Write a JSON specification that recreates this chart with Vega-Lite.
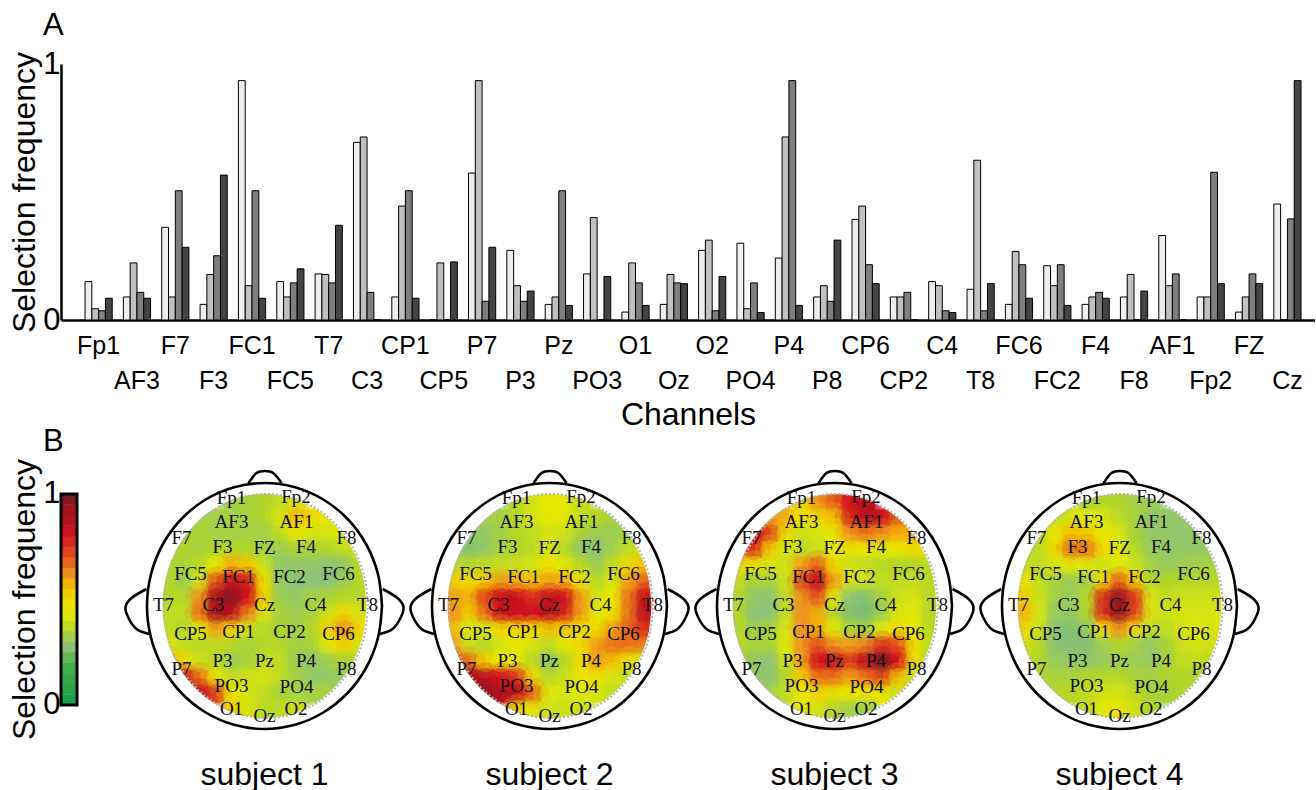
{"$schema":"https://vega.github.io/schema/vega-lite/v6.json","padding":{"left":8,"top":10,"right":0,"bottom":0},"background":"white","config":{"view":{"stroke":null},"font":"Liberation Sans","concat":{"spacing":-4}},"datasets":{"bars":[{"c":"Fp1","s":1,"v":0.15},{"c":"Fp1","s":2,"v":0.044},{"c":"Fp1","s":3,"v":0.036},{"c":"Fp1","s":4,"v":0.085},{"c":"AF3","s":1,"v":0.09},{"c":"AF3","s":2,"v":0.223},{"c":"AF3","s":3,"v":0.108},{"c":"AF3","s":4,"v":0.085},{"c":"F7","s":1,"v":0.362},{"c":"F7","s":2,"v":0.09},{"c":"F7","s":3,"v":0.505},{"c":"F7","s":4,"v":0.284},{"c":"F3","s":1,"v":0.061},{"c":"F3","s":2,"v":0.178},{"c":"F3","s":3,"v":0.251},{"c":"F3","s":4,"v":0.566},{"c":"FC1","s":1,"v":0.935},{"c":"FC1","s":2,"v":0.134},{"c":"FC1","s":3,"v":0.505},{"c":"FC1","s":4,"v":0.085},{"c":"FC5","s":1,"v":0.15},{"c":"FC5","s":2,"v":0.09},{"c":"FC5","s":3,"v":0.145},{"c":"FC5","s":4,"v":0.2},{"c":"T7","s":1,"v":0.18},{"c":"T7","s":2,"v":0.178},{"c":"T7","s":3,"v":0.145},{"c":"T7","s":4,"v":0.37},{"c":"C3","s":1,"v":0.694},{"c":"C3","s":2,"v":0.715},{"c":"C3","s":3,"v":0.108},{"c":"C3","s":4,"v":0},{"c":"CP1","s":1,"v":0.09},{"c":"CP1","s":2,"v":0.445},{"c":"CP1","s":3,"v":0.505},{"c":"CP1","s":4,"v":0.085},{"c":"CP5","s":1,"v":0},{"c":"CP5","s":2,"v":0.223},{"c":"CP5","s":3,"v":0},{"c":"CP5","s":4,"v":0.227},{"c":"P7","s":1,"v":0.574},{"c":"P7","s":2,"v":0.935},{"c":"P7","s":3,"v":0.073},{"c":"P7","s":4,"v":0.284},{"c":"P3","s":1,"v":0.272},{"c":"P3","s":2,"v":0.134},{"c":"P3","s":3,"v":0.073},{"c":"P3","s":4,"v":0.113},{"c":"Pz","s":1,"v":0.061},{"c":"Pz","s":2,"v":0.09},{"c":"Pz","s":3,"v":0.505},{"c":"Pz","s":4,"v":0.057},{"c":"PO3","s":1,"v":0.18},{"c":"PO3","s":2,"v":0.4},{"c":"PO3","s":3,"v":0},{"c":"PO3","s":4,"v":0.17},{"c":"O1","s":1,"v":0.031},{"c":"O1","s":2,"v":0.223},{"c":"O1","s":3,"v":0.145},{"c":"O1","s":4,"v":0.057},{"c":"Oz","s":1,"v":0.061},{"c":"Oz","s":2,"v":0.178},{"c":"Oz","s":3,"v":0.145},{"c":"Oz","s":4,"v":0.142},{"c":"O2","s":1,"v":0.272},{"c":"O2","s":2,"v":0.312},{"c":"O2","s":3,"v":0.036},{"c":"O2","s":4,"v":0.17},{"c":"PO4","s":1,"v":0.3},{"c":"PO4","s":2,"v":0.044},{"c":"PO4","s":3,"v":0.145},{"c":"PO4","s":4,"v":0.029},{"c":"P4","s":1,"v":0.242},{"c":"P4","s":2,"v":0.715},{"c":"P4","s":3,"v":0.935},{"c":"P4","s":4,"v":0.057},{"c":"P8","s":1,"v":0.09},{"c":"P8","s":2,"v":0.134},{"c":"P8","s":3,"v":0.073},{"c":"P8","s":4,"v":0.312},{"c":"CP6","s":1,"v":0.393},{"c":"CP6","s":2,"v":0.445},{"c":"CP6","s":3,"v":0.216},{"c":"CP6","s":4,"v":0.142},{"c":"CP2","s":1,"v":0.09},{"c":"CP2","s":2,"v":0.09},{"c":"CP2","s":3,"v":0.108},{"c":"CP2","s":4,"v":0},{"c":"C4","s":1,"v":0.15},{"c":"C4","s":2,"v":0.134},{"c":"C4","s":3,"v":0.036},{"c":"C4","s":4,"v":0.029},{"c":"T8","s":1,"v":0.12},{"c":"T8","s":2,"v":0.624},{"c":"T8","s":3,"v":0.036},{"c":"T8","s":4,"v":0.142},{"c":"FC6","s":1,"v":0.061},{"c":"FC6","s":2,"v":0.268},{"c":"FC6","s":3,"v":0.216},{"c":"FC6","s":4,"v":0.085},{"c":"FC2","s":1,"v":0.212},{"c":"FC2","s":2,"v":0.134},{"c":"FC2","s":3,"v":0.216},{"c":"FC2","s":4,"v":0.057},{"c":"F4","s":1,"v":0.061},{"c":"F4","s":2,"v":0.09},{"c":"F4","s":3,"v":0.108},{"c":"F4","s":4,"v":0.085},{"c":"F8","s":1,"v":0.09},{"c":"F8","s":2,"v":0.178},{"c":"F8","s":3,"v":0},{"c":"F8","s":4,"v":0.113},{"c":"AF1","s":1,"v":0.33},{"c":"AF1","s":2,"v":0.134},{"c":"AF1","s":3,"v":0.18},{"c":"AF1","s":4,"v":0},{"c":"Fp2","s":1,"v":0.09},{"c":"Fp2","s":2,"v":0.09},{"c":"Fp2","s":3,"v":0.577},{"c":"Fp2","s":4,"v":0.142},{"c":"FZ","s":1,"v":0.031},{"c":"FZ","s":2,"v":0.09},{"c":"FZ","s":3,"v":0.18},{"c":"FZ","s":4,"v":0.142},{"c":"Cz","s":1,"v":0.453},{"c":"Cz","s":2,"v":0},{"c":"Cz","s":3,"v":0.395},{"c":"Cz","s":4,"v":0.935}],
"head":[{"p":"h","i":0,"x":117.5,"y":0},{"p":"h","i":1,"x":113.5,"y":31.8},{"p":"h","i":2,"x":101.8,"y":61.5},{"p":"h","i":3,"x":83.1,"y":87},{"p":"h","i":4,"x":58.8,"y":106.5},{"p":"h","i":5,"x":30.4,"y":118.8},{"p":"h","i":6,"x":0,"y":123},{"p":"h","i":7,"x":-30.4,"y":118.8},{"p":"h","i":8,"x":-58.8,"y":106.5},{"p":"h","i":9,"x":-83.1,"y":87},{"p":"h","i":10,"x":-101.8,"y":61.5},{"p":"h","i":11,"x":-113.5,"y":31.8},{"p":"h","i":12,"x":-117.5,"y":0},{"p":"h","i":13,"x":-113.5,"y":-31.8},{"p":"h","i":14,"x":-101.8,"y":-61.5},{"p":"h","i":15,"x":-83.1,"y":-87},{"p":"h","i":16,"x":-58.8,"y":-106.5},{"p":"h","i":17,"x":-30.4,"y":-118.8},{"p":"h","i":18,"x":0,"y":-123},{"p":"h","i":19,"x":30.4,"y":-118.8},{"p":"h","i":20,"x":58.8,"y":-106.5},{"p":"h","i":21,"x":83.1,"y":-87},{"p":"h","i":22,"x":101.8,"y":-61.5},{"p":"h","i":23,"x":113.5,"y":-31.8},{"p":"h","i":24,"x":117.5,"y":0},{"p":"l","i":0,"x":-118,"y":17},{"p":"l","i":1,"x":-133,"y":8},{"p":"l","i":2,"x":-139,"y":-1},{"p":"l","i":3,"x":-136,"y":-12},{"p":"l","i":4,"x":-128,"y":-23},{"p":"l","i":5,"x":-115.5,"y":-28},{"p":"r","i":0,"x":118,"y":17},{"p":"r","i":1,"x":133,"y":8},{"p":"r","i":2,"x":139,"y":-1},{"p":"r","i":3,"x":136,"y":-12},{"p":"r","i":4,"x":128,"y":-23},{"p":"r","i":5,"x":115.5,"y":-28},{"p":"n","i":0,"x":-16,"y":122.7},{"p":"n","i":1,"x":-8,"y":133},{"p":"n","i":2,"x":0.5,"y":135},{"p":"n","i":3,"x":8.8,"y":133},{"p":"n","i":4,"x":17,"y":123}],
"mask":[{"i":0,"x":115,"y":0},{"i":1,"x":111.1,"y":32.4},{"i":2,"x":99.6,"y":62.5},{"i":3,"x":81.3,"y":88.4},{"i":4,"x":57.5,"y":108.3},{"i":5,"x":29.8,"y":120.8},{"i":6,"x":0,"y":125},{"i":7,"x":-29.8,"y":120.8},{"i":8,"x":-57.5,"y":108.3},{"i":9,"x":-81.3,"y":88.4},{"i":10,"x":-99.6,"y":62.5},{"i":11,"x":-111.1,"y":32.4},{"i":12,"x":-115,"y":0},{"i":13,"x":-111.1,"y":-32.4},{"i":14,"x":-99.6,"y":-62.5},{"i":15,"x":-81.3,"y":-88.4},{"i":16,"x":-57.5,"y":-108.3},{"i":17,"x":-29.8,"y":-120.8},{"i":18,"x":0,"y":-125},{"i":19,"x":29.8,"y":-120.8},{"i":20,"x":57.5,"y":-108.3},{"i":21,"x":81.3,"y":-88.4},{"i":22,"x":99.6,"y":-62.5},{"i":23,"x":111.1,"y":-32.4},{"i":24,"x":115,"y":0}],
"disc":[{"i":0,"x":103.5,"y":0},{"i":1,"x":100,"y":29},{"i":2,"x":89.8,"y":56},{"i":3,"x":73.6,"y":79.2},{"i":4,"x":52.5,"y":97},{"i":5,"x":27.9,"y":108.2},{"i":6,"x":1.5,"y":112},{"i":7,"x":-24.9,"y":108.2},{"i":8,"x":-49.5,"y":97},{"i":9,"x":-70.6,"y":79.2},{"i":10,"x":-86.8,"y":56},{"i":11,"x":-97,"y":29},{"i":12,"x":-100.5,"y":0},{"i":13,"x":-97,"y":-29},{"i":14,"x":-86.8,"y":-56},{"i":15,"x":-70.6,"y":-79.2},{"i":16,"x":-49.5,"y":-97},{"i":17,"x":-24.9,"y":-108.2},{"i":18,"x":1.5,"y":-112},{"i":19,"x":27.9,"y":-108.2},{"i":20,"x":52.5,"y":-97},{"i":21,"x":73.6,"y":-79.2},{"i":22,"x":89.8,"y":-56},{"i":23,"x":100,"y":-29},{"i":24,"x":103.5,"y":0}],
"elec":[{"n":"Fp1","x":-33,"y":108},{"n":"Fp2","x":31.5,"y":109},{"n":"AF3","x":-33,"y":84},{"n":"AF1","x":32,"y":84},{"n":"F7","x":-83,"y":68},{"n":"F8","x":82,"y":68},{"n":"F3","x":-42,"y":59},{"n":"FZ","x":0,"y":58},{"n":"F4","x":41.5,"y":59},{"n":"FC5","x":-74,"y":32},{"n":"FC1","x":-26,"y":29},{"n":"FC2","x":25,"y":29},{"n":"FC6","x":74,"y":32},{"n":"T7","x":-101,"y":1},{"n":"C3","x":-51,"y":1},{"n":"Cz","x":0,"y":1},{"n":"C4","x":51,"y":1},{"n":"T8","x":103,"y":1},{"n":"CP5","x":-74,"y":-28},{"n":"CP1","x":-26,"y":-26},{"n":"CP2","x":25,"y":-26},{"n":"CP6","x":74,"y":-28},{"n":"P3","x":-42,"y":-55},{"n":"Pz","x":0,"y":-55},{"n":"P4","x":41.5,"y":-55},{"n":"P7","x":-83,"y":-63},{"n":"P8","x":82,"y":-63},{"n":"PO3","x":-33,"y":-80},{"n":"PO4","x":32,"y":-81},{"n":"O1","x":-33,"y":-103},{"n":"O2","x":31.5,"y":-103},{"n":"Oz","x":0,"y":-110}],
"bar":[{"v":0.025},{"v":0.075},{"v":0.125},{"v":0.175},{"v":0.225},{"v":0.275},{"v":0.325},{"v":0.375},{"v":0.425},{"v":0.475},{"v":0.525},{"v":0.575},{"v":0.625},{"v":0.675},{"v":0.725},{"v":0.775},{"v":0.825},{"v":0.875},{"v":0.925},{"v":0.975}],
"cells":[
{"s":1,"x":-32,"y":104,"v":0.33},{"s":1,"x":-16,"y":104,"v":0.34},{"s":1,"x":0,"y":104,"v":0.35},{"s":1,"x":16,"y":104,"v":0.38},{"s":1,"x":32,"y":104,"v":0.42},
{"s":1,"x":-64,"y":88,"v":0.34},{"s":1,"x":-48,"y":88,"v":0.33},{"s":1,"x":-32,"y":88,"v":0.33},{"s":1,"x":-16,"y":88,"v":0.34},{"s":1,"x":0,"y":88,"v":0.35},{"s":1,"x":16,"y":88,"v":0.42},{"s":1,"x":32,"y":88,"v":0.57},{"s":1,"x":48,"y":88,"v":0.5},{"s":1,"x":64,"y":88,"v":0.44},
{"s":1,"x":-80,"y":72,"v":0.35},{"s":1,"x":-64,"y":72,"v":0.34},{"s":1,"x":-48,"y":72,"v":0.33},{"s":1,"x":-32,"y":72,"v":0.33},{"s":1,"x":-16,"y":72,"v":0.33},{"s":1,"x":0,"y":72,"v":0.33},{"s":1,"x":16,"y":72,"v":0.38},{"s":1,"x":32,"y":72,"v":0.46},{"s":1,"x":48,"y":72,"v":0.42},{"s":1,"x":64,"y":72,"v":0.42},{"s":1,"x":80,"y":72,"v":0.44},
{"s":1,"x":-96,"y":56,"v":0.36},{"s":1,"x":-80,"y":56,"v":0.35},{"s":1,"x":-64,"y":56,"v":0.34},{"s":1,"x":-48,"y":56,"v":0.35},{"s":1,"x":-32,"y":56,"v":0.36},{"s":1,"x":-16,"y":56,"v":0.35},{"s":1,"x":0,"y":56,"v":0.33},{"s":1,"x":16,"y":56,"v":0.32},{"s":1,"x":32,"y":56,"v":0.34},{"s":1,"x":48,"y":56,"v":0.34},{"s":1,"x":64,"y":56,"v":0.35},{"s":1,"x":80,"y":56,"v":0.38},{"s":1,"x":96,"y":56,"v":0.4},
{"s":1,"x":-96,"y":40,"v":0.36},{"s":1,"x":-80,"y":40,"v":0.34},{"s":1,"x":-64,"y":40,"v":0.37},{"s":1,"x":-48,"y":40,"v":0.45},{"s":1,"x":-32,"y":40,"v":0.58},{"s":1,"x":-16,"y":40,"v":0.55},{"s":1,"x":0,"y":40,"v":0.4},{"s":1,"x":16,"y":40,"v":0.3},{"s":1,"x":32,"y":40,"v":0.3},{"s":1,"x":48,"y":40,"v":0.3},{"s":1,"x":64,"y":40,"v":0.28},{"s":1,"x":80,"y":40,"v":0.3},{"s":1,"x":96,"y":40,"v":0.36},
{"s":1,"x":-96,"y":24,"v":0.36},{"s":1,"x":-80,"y":24,"v":0.32},{"s":1,"x":-64,"y":24,"v":0.42},{"s":1,"x":-48,"y":24,"v":0.7},{"s":1,"x":-32,"y":24,"v":0.82},{"s":1,"x":-16,"y":24,"v":0.78},{"s":1,"x":0,"y":24,"v":0.48},{"s":1,"x":16,"y":24,"v":0.3},{"s":1,"x":32,"y":24,"v":0.28},{"s":1,"x":48,"y":24,"v":0.28},{"s":1,"x":64,"y":24,"v":0.28},{"s":1,"x":80,"y":24,"v":0.32},{"s":1,"x":96,"y":24,"v":0.36},
{"s":1,"x":-96,"y":8,"v":0.36},{"s":1,"x":-80,"y":8,"v":0.36},{"s":1,"x":-64,"y":8,"v":0.62},{"s":1,"x":-48,"y":8,"v":0.9},{"s":1,"x":-32,"y":8,"v":0.96},{"s":1,"x":-16,"y":8,"v":0.8},{"s":1,"x":0,"y":8,"v":0.52},{"s":1,"x":16,"y":8,"v":0.32},{"s":1,"x":32,"y":8,"v":0.3},{"s":1,"x":48,"y":8,"v":0.33},{"s":1,"x":64,"y":8,"v":0.34},{"s":1,"x":80,"y":8,"v":0.36},{"s":1,"x":96,"y":8,"v":0.36},
{"s":1,"x":-96,"y":-8,"v":0.38},{"s":1,"x":-80,"y":-8,"v":0.38},{"s":1,"x":-64,"y":-8,"v":0.66},{"s":1,"x":-48,"y":-8,"v":0.92},{"s":1,"x":-32,"y":-8,"v":0.85},{"s":1,"x":-16,"y":-8,"v":0.64},{"s":1,"x":0,"y":-8,"v":0.42},{"s":1,"x":16,"y":-8,"v":0.34},{"s":1,"x":32,"y":-8,"v":0.32},{"s":1,"x":48,"y":-8,"v":0.34},{"s":1,"x":64,"y":-8,"v":0.4},{"s":1,"x":80,"y":-8,"v":0.5},{"s":1,"x":96,"y":-8,"v":0.42},
{"s":1,"x":-96,"y":-24,"v":0.38},{"s":1,"x":-80,"y":-24,"v":0.36},{"s":1,"x":-64,"y":-24,"v":0.44},{"s":1,"x":-48,"y":-24,"v":0.6},{"s":1,"x":-32,"y":-24,"v":0.52},{"s":1,"x":-16,"y":-24,"v":0.4},{"s":1,"x":0,"y":-24,"v":0.36},{"s":1,"x":16,"y":-24,"v":0.34},{"s":1,"x":32,"y":-24,"v":0.33},{"s":1,"x":48,"y":-24,"v":0.36},{"s":1,"x":64,"y":-24,"v":0.52},{"s":1,"x":80,"y":-24,"v":0.62},{"s":1,"x":96,"y":-24,"v":0.5},
{"s":1,"x":-96,"y":-40,"v":0.44},{"s":1,"x":-80,"y":-40,"v":0.38},{"s":1,"x":-64,"y":-40,"v":0.36},{"s":1,"x":-48,"y":-40,"v":0.38},{"s":1,"x":-32,"y":-40,"v":0.36},{"s":1,"x":-16,"y":-40,"v":0.34},{"s":1,"x":0,"y":-40,"v":0.36},{"s":1,"x":16,"y":-40,"v":0.36},{"s":1,"x":32,"y":-40,"v":0.33},{"s":1,"x":48,"y":-40,"v":0.34},{"s":1,"x":64,"y":-40,"v":0.44},{"s":1,"x":80,"y":-40,"v":0.52},{"s":1,"x":96,"y":-40,"v":0.42},
{"s":1,"x":-96,"y":-56,"v":0.6},{"s":1,"x":-80,"y":-56,"v":0.5},{"s":1,"x":-64,"y":-56,"v":0.4},{"s":1,"x":-48,"y":-56,"v":0.36},{"s":1,"x":-32,"y":-56,"v":0.32},{"s":1,"x":-16,"y":-56,"v":0.34},{"s":1,"x":0,"y":-56,"v":0.38},{"s":1,"x":16,"y":-56,"v":0.38},{"s":1,"x":32,"y":-56,"v":0.32},{"s":1,"x":48,"y":-56,"v":0.3},{"s":1,"x":64,"y":-56,"v":0.32},{"s":1,"x":80,"y":-56,"v":0.35},{"s":1,"x":96,"y":-56,"v":0.34},
{"s":1,"x":-80,"y":-72,"v":0.82},{"s":1,"x":-64,"y":-72,"v":0.66},{"s":1,"x":-48,"y":-72,"v":0.46},{"s":1,"x":-32,"y":-72,"v":0.38},{"s":1,"x":-16,"y":-72,"v":0.4},{"s":1,"x":0,"y":-72,"v":0.42},{"s":1,"x":16,"y":-72,"v":0.38},{"s":1,"x":32,"y":-72,"v":0.33},{"s":1,"x":48,"y":-72,"v":0.3},{"s":1,"x":64,"y":-72,"v":0.3},{"s":1,"x":80,"y":-72,"v":0.32},
{"s":1,"x":-64,"y":-88,"v":0.85},{"s":1,"x":-48,"y":-88,"v":0.72},{"s":1,"x":-32,"y":-88,"v":0.46},{"s":1,"x":-16,"y":-88,"v":0.42},{"s":1,"x":0,"y":-88,"v":0.38},{"s":1,"x":16,"y":-88,"v":0.34},{"s":1,"x":32,"y":-88,"v":0.33},{"s":1,"x":48,"y":-88,"v":0.33},{"s":1,"x":64,"y":-88,"v":0.34},
{"s":1,"x":-32,"y":-104,"v":0.55},{"s":1,"x":-16,"y":-104,"v":0.42},{"s":1,"x":0,"y":-104,"v":0.37},{"s":1,"x":16,"y":-104,"v":0.37},{"s":1,"x":32,"y":-104,"v":0.4},
{"s":2,"x":-32,"y":104,"v":0.37},{"s":2,"x":-16,"y":104,"v":0.42},{"s":2,"x":0,"y":104,"v":0.46},{"s":2,"x":16,"y":104,"v":0.44},{"s":2,"x":32,"y":104,"v":0.38},
{"s":2,"x":-64,"y":88,"v":0.34},{"s":2,"x":-48,"y":88,"v":0.33},{"s":2,"x":-32,"y":88,"v":0.36},{"s":2,"x":-16,"y":88,"v":0.42},{"s":2,"x":0,"y":88,"v":0.46},{"s":2,"x":16,"y":88,"v":0.44},{"s":2,"x":32,"y":88,"v":0.38},{"s":2,"x":48,"y":88,"v":0.36},{"s":2,"x":64,"y":88,"v":0.34},
{"s":2,"x":-80,"y":72,"v":0.3},{"s":2,"x":-64,"y":72,"v":0.3},{"s":2,"x":-48,"y":72,"v":0.33},{"s":2,"x":-32,"y":72,"v":0.36},{"s":2,"x":-16,"y":72,"v":0.38},{"s":2,"x":0,"y":72,"v":0.42},{"s":2,"x":16,"y":72,"v":0.4},{"s":2,"x":32,"y":72,"v":0.34},{"s":2,"x":48,"y":72,"v":0.32},{"s":2,"x":64,"y":72,"v":0.32},{"s":2,"x":80,"y":72,"v":0.33},
{"s":2,"x":-96,"y":56,"v":0.3},{"s":2,"x":-80,"y":56,"v":0.27},{"s":2,"x":-64,"y":56,"v":0.3},{"s":2,"x":-48,"y":56,"v":0.34},{"s":2,"x":-32,"y":56,"v":0.35},{"s":2,"x":-16,"y":56,"v":0.37},{"s":2,"x":0,"y":56,"v":0.42},{"s":2,"x":16,"y":56,"v":0.36},{"s":2,"x":32,"y":56,"v":0.3},{"s":2,"x":48,"y":56,"v":0.28},{"s":2,"x":64,"y":56,"v":0.33},{"s":2,"x":80,"y":56,"v":0.38},{"s":2,"x":96,"y":56,"v":0.42},
{"s":2,"x":-96,"y":40,"v":0.38},{"s":2,"x":-80,"y":40,"v":0.36},{"s":2,"x":-64,"y":40,"v":0.38},{"s":2,"x":-48,"y":40,"v":0.38},{"s":2,"x":-32,"y":40,"v":0.4},{"s":2,"x":-16,"y":40,"v":0.42},{"s":2,"x":0,"y":40,"v":0.48},{"s":2,"x":16,"y":40,"v":0.44},{"s":2,"x":32,"y":40,"v":0.36},{"s":2,"x":48,"y":40,"v":0.32},{"s":2,"x":64,"y":40,"v":0.38},{"s":2,"x":80,"y":40,"v":0.5},{"s":2,"x":96,"y":40,"v":0.56},
{"s":2,"x":-96,"y":24,"v":0.52},{"s":2,"x":-80,"y":24,"v":0.5},{"s":2,"x":-64,"y":24,"v":0.55},{"s":2,"x":-48,"y":24,"v":0.6},{"s":2,"x":-32,"y":24,"v":0.58},{"s":2,"x":-16,"y":24,"v":0.56},{"s":2,"x":0,"y":24,"v":0.6},{"s":2,"x":16,"y":24,"v":0.58},{"s":2,"x":32,"y":24,"v":0.46},{"s":2,"x":48,"y":24,"v":0.36},{"s":2,"x":64,"y":24,"v":0.42},{"s":2,"x":80,"y":24,"v":0.6},{"s":2,"x":96,"y":24,"v":0.68},
{"s":2,"x":-96,"y":8,"v":0.6},{"s":2,"x":-80,"y":8,"v":0.58},{"s":2,"x":-64,"y":8,"v":0.72},{"s":2,"x":-48,"y":8,"v":0.84},{"s":2,"x":-32,"y":8,"v":0.82},{"s":2,"x":-16,"y":8,"v":0.76},{"s":2,"x":0,"y":8,"v":0.84},{"s":2,"x":16,"y":8,"v":0.8},{"s":2,"x":32,"y":8,"v":0.6},{"s":2,"x":48,"y":8,"v":0.42},{"s":2,"x":64,"y":8,"v":0.46},{"s":2,"x":80,"y":8,"v":0.66},{"s":2,"x":96,"y":8,"v":0.82},
{"s":2,"x":-96,"y":-8,"v":0.62},{"s":2,"x":-80,"y":-8,"v":0.54},{"s":2,"x":-64,"y":-8,"v":0.66},{"s":2,"x":-48,"y":-8,"v":0.82},{"s":2,"x":-32,"y":-8,"v":0.82},{"s":2,"x":-16,"y":-8,"v":0.8},{"s":2,"x":0,"y":-8,"v":0.86},{"s":2,"x":16,"y":-8,"v":0.78},{"s":2,"x":32,"y":-8,"v":0.6},{"s":2,"x":48,"y":-8,"v":0.44},{"s":2,"x":64,"y":-8,"v":0.48},{"s":2,"x":80,"y":-8,"v":0.66},{"s":2,"x":96,"y":-8,"v":0.85},
{"s":2,"x":-96,"y":-24,"v":0.56},{"s":2,"x":-80,"y":-24,"v":0.42},{"s":2,"x":-64,"y":-24,"v":0.42},{"s":2,"x":-48,"y":-24,"v":0.5},{"s":2,"x":-32,"y":-24,"v":0.52},{"s":2,"x":-16,"y":-24,"v":0.5},{"s":2,"x":0,"y":-24,"v":0.56},{"s":2,"x":16,"y":-24,"v":0.54},{"s":2,"x":32,"y":-24,"v":0.5},{"s":2,"x":48,"y":-24,"v":0.5},{"s":2,"x":64,"y":-24,"v":0.6},{"s":2,"x":80,"y":-24,"v":0.68},{"s":2,"x":96,"y":-24,"v":0.76},
{"s":2,"x":-96,"y":-40,"v":0.6},{"s":2,"x":-80,"y":-40,"v":0.4},{"s":2,"x":-64,"y":-40,"v":0.36},{"s":2,"x":-48,"y":-40,"v":0.42},{"s":2,"x":-32,"y":-40,"v":0.46},{"s":2,"x":-16,"y":-40,"v":0.42},{"s":2,"x":0,"y":-40,"v":0.38},{"s":2,"x":16,"y":-40,"v":0.44},{"s":2,"x":32,"y":-40,"v":0.5},{"s":2,"x":48,"y":-40,"v":0.6},{"s":2,"x":64,"y":-40,"v":0.66},{"s":2,"x":80,"y":-40,"v":0.66},{"s":2,"x":96,"y":-40,"v":0.64},
{"s":2,"x":-96,"y":-56,"v":0.72},{"s":2,"x":-80,"y":-56,"v":0.66},{"s":2,"x":-64,"y":-56,"v":0.52},{"s":2,"x":-48,"y":-56,"v":0.46},{"s":2,"x":-32,"y":-56,"v":0.44},{"s":2,"x":-16,"y":-56,"v":0.36},{"s":2,"x":0,"y":-56,"v":0.3},{"s":2,"x":16,"y":-56,"v":0.36},{"s":2,"x":32,"y":-56,"v":0.5},{"s":2,"x":48,"y":-56,"v":0.6},{"s":2,"x":64,"y":-56,"v":0.56},{"s":2,"x":80,"y":-56,"v":0.46},{"s":2,"x":96,"y":-56,"v":0.42},
{"s":2,"x":-80,"y":-72,"v":0.9},{"s":2,"x":-64,"y":-72,"v":0.85},{"s":2,"x":-48,"y":-72,"v":0.8},{"s":2,"x":-32,"y":-72,"v":0.76},{"s":2,"x":-16,"y":-72,"v":0.5},{"s":2,"x":0,"y":-72,"v":0.36},{"s":2,"x":16,"y":-72,"v":0.4},{"s":2,"x":32,"y":-72,"v":0.46},{"s":2,"x":48,"y":-72,"v":0.48},{"s":2,"x":64,"y":-72,"v":0.42},{"s":2,"x":80,"y":-72,"v":0.38},
{"s":2,"x":-64,"y":-88,"v":0.96},{"s":2,"x":-48,"y":-88,"v":0.86},{"s":2,"x":-32,"y":-88,"v":0.86},{"s":2,"x":-16,"y":-88,"v":0.68},{"s":2,"x":0,"y":-88,"v":0.44},{"s":2,"x":16,"y":-88,"v":0.42},{"s":2,"x":32,"y":-88,"v":0.44},{"s":2,"x":48,"y":-88,"v":0.42},{"s":2,"x":64,"y":-88,"v":0.38},
{"s":2,"x":-32,"y":-104,"v":0.5},{"s":2,"x":-16,"y":-104,"v":0.44},{"s":2,"x":0,"y":-104,"v":0.4},{"s":2,"x":16,"y":-104,"v":0.4},{"s":2,"x":32,"y":-104,"v":0.4},
{"s":3,"x":-32,"y":104,"v":0.52},{"s":3,"x":-16,"y":104,"v":0.62},{"s":3,"x":0,"y":104,"v":0.68},{"s":3,"x":16,"y":104,"v":0.8},{"s":3,"x":32,"y":104,"v":0.86},
{"s":3,"x":-64,"y":88,"v":0.6},{"s":3,"x":-48,"y":88,"v":0.58},{"s":3,"x":-32,"y":88,"v":0.48},{"s":3,"x":-16,"y":88,"v":0.52},{"s":3,"x":0,"y":88,"v":0.56},{"s":3,"x":16,"y":88,"v":0.78},{"s":3,"x":32,"y":88,"v":0.86},{"s":3,"x":48,"y":88,"v":0.82},{"s":3,"x":64,"y":88,"v":0.68},
{"s":3,"x":-80,"y":72,"v":0.82},{"s":3,"x":-64,"y":72,"v":0.72},{"s":3,"x":-48,"y":72,"v":0.5},{"s":3,"x":-32,"y":72,"v":0.4},{"s":3,"x":-16,"y":72,"v":0.42},{"s":3,"x":0,"y":72,"v":0.48},{"s":3,"x":16,"y":72,"v":0.62},{"s":3,"x":32,"y":72,"v":0.66},{"s":3,"x":48,"y":72,"v":0.62},{"s":3,"x":64,"y":72,"v":0.58},{"s":3,"x":80,"y":72,"v":0.58},
{"s":3,"x":-96,"y":56,"v":0.72},{"s":3,"x":-80,"y":56,"v":0.76},{"s":3,"x":-64,"y":56,"v":0.54},{"s":3,"x":-48,"y":56,"v":0.42},{"s":3,"x":-32,"y":56,"v":0.38},{"s":3,"x":-16,"y":56,"v":0.4},{"s":3,"x":0,"y":56,"v":0.44},{"s":3,"x":16,"y":56,"v":0.48},{"s":3,"x":32,"y":56,"v":0.46},{"s":3,"x":48,"y":56,"v":0.44},{"s":3,"x":64,"y":56,"v":0.46},{"s":3,"x":80,"y":56,"v":0.5},{"s":3,"x":96,"y":56,"v":0.46},
{"s":3,"x":-96,"y":40,"v":0.5},{"s":3,"x":-80,"y":40,"v":0.46},{"s":3,"x":-64,"y":40,"v":0.42},{"s":3,"x":-48,"y":40,"v":0.4},{"s":3,"x":-32,"y":40,"v":0.6},{"s":3,"x":-16,"y":40,"v":0.68},{"s":3,"x":0,"y":40,"v":0.5},{"s":3,"x":16,"y":40,"v":0.4},{"s":3,"x":32,"y":40,"v":0.38},{"s":3,"x":48,"y":40,"v":0.36},{"s":3,"x":64,"y":40,"v":0.36},{"s":3,"x":80,"y":40,"v":0.36},{"s":3,"x":96,"y":40,"v":0.36},
{"s":3,"x":-96,"y":24,"v":0.38},{"s":3,"x":-80,"y":24,"v":0.34},{"s":3,"x":-64,"y":24,"v":0.34},{"s":3,"x":-48,"y":24,"v":0.4},{"s":3,"x":-32,"y":24,"v":0.72},{"s":3,"x":-16,"y":24,"v":0.84},{"s":3,"x":0,"y":24,"v":0.6},{"s":3,"x":16,"y":24,"v":0.42},{"s":3,"x":32,"y":24,"v":0.4},{"s":3,"x":48,"y":24,"v":0.38},{"s":3,"x":64,"y":24,"v":0.38},{"s":3,"x":80,"y":24,"v":0.38},{"s":3,"x":96,"y":24,"v":0.36},
{"s":3,"x":-96,"y":8,"v":0.36},{"s":3,"x":-80,"y":8,"v":0.3},{"s":3,"x":-64,"y":8,"v":0.28},{"s":3,"x":-48,"y":8,"v":0.38},{"s":3,"x":-32,"y":8,"v":0.62},{"s":3,"x":-16,"y":8,"v":0.7},{"s":3,"x":0,"y":8,"v":0.44},{"s":3,"x":16,"y":8,"v":0.28},{"s":3,"x":32,"y":8,"v":0.27},{"s":3,"x":48,"y":8,"v":0.34},{"s":3,"x":64,"y":8,"v":0.4},{"s":3,"x":80,"y":8,"v":0.42},{"s":3,"x":96,"y":8,"v":0.36},
{"s":3,"x":-96,"y":-8,"v":0.36},{"s":3,"x":-80,"y":-8,"v":0.28},{"s":3,"x":-64,"y":-8,"v":0.28},{"s":3,"x":-48,"y":-8,"v":0.38},{"s":3,"x":-32,"y":-8,"v":0.62},{"s":3,"x":-16,"y":-8,"v":0.58},{"s":3,"x":0,"y":-8,"v":0.36},{"s":3,"x":16,"y":-8,"v":0.27},{"s":3,"x":32,"y":-8,"v":0.26},{"s":3,"x":48,"y":-8,"v":0.32},{"s":3,"x":64,"y":-8,"v":0.42},{"s":3,"x":80,"y":-8,"v":0.44},{"s":3,"x":96,"y":-8,"v":0.36},
{"s":3,"x":-96,"y":-24,"v":0.36},{"s":3,"x":-80,"y":-24,"v":0.32},{"s":3,"x":-64,"y":-24,"v":0.34},{"s":3,"x":-48,"y":-24,"v":0.42},{"s":3,"x":-32,"y":-24,"v":0.62},{"s":3,"x":-16,"y":-24,"v":0.58},{"s":3,"x":0,"y":-24,"v":0.44},{"s":3,"x":16,"y":-24,"v":0.34},{"s":3,"x":32,"y":-24,"v":0.33},{"s":3,"x":48,"y":-24,"v":0.44},{"s":3,"x":64,"y":-24,"v":0.5},{"s":3,"x":80,"y":-24,"v":0.46},{"s":3,"x":96,"y":-24,"v":0.36},
{"s":3,"x":-96,"y":-40,"v":0.38},{"s":3,"x":-80,"y":-40,"v":0.34},{"s":3,"x":-64,"y":-40,"v":0.34},{"s":3,"x":-48,"y":-40,"v":0.44},{"s":3,"x":-32,"y":-40,"v":0.62},{"s":3,"x":-16,"y":-40,"v":0.7},{"s":3,"x":0,"y":-40,"v":0.62},{"s":3,"x":16,"y":-40,"v":0.6},{"s":3,"x":32,"y":-40,"v":0.64},{"s":3,"x":48,"y":-40,"v":0.76},{"s":3,"x":64,"y":-40,"v":0.7},{"s":3,"x":80,"y":-40,"v":0.5},{"s":3,"x":96,"y":-40,"v":0.38},
{"s":3,"x":-96,"y":-56,"v":0.36},{"s":3,"x":-80,"y":-56,"v":0.3},{"s":3,"x":-64,"y":-56,"v":0.28},{"s":3,"x":-48,"y":-56,"v":0.4},{"s":3,"x":-32,"y":-56,"v":0.6},{"s":3,"x":-16,"y":-56,"v":0.8},{"s":3,"x":0,"y":-56,"v":0.84},{"s":3,"x":16,"y":-56,"v":0.74},{"s":3,"x":32,"y":-56,"v":0.86},{"s":3,"x":48,"y":-56,"v":0.98},{"s":3,"x":64,"y":-56,"v":0.8},{"s":3,"x":80,"y":-56,"v":0.48},{"s":3,"x":96,"y":-56,"v":0.36},
{"s":3,"x":-80,"y":-72,"v":0.3},{"s":3,"x":-64,"y":-72,"v":0.28},{"s":3,"x":-48,"y":-72,"v":0.36},{"s":3,"x":-32,"y":-72,"v":0.54},{"s":3,"x":-16,"y":-72,"v":0.66},{"s":3,"x":0,"y":-72,"v":0.66},{"s":3,"x":16,"y":-72,"v":0.6},{"s":3,"x":32,"y":-72,"v":0.66},{"s":3,"x":48,"y":-72,"v":0.72},{"s":3,"x":64,"y":-72,"v":0.56},{"s":3,"x":80,"y":-72,"v":0.4},
{"s":3,"x":-64,"y":-88,"v":0.33},{"s":3,"x":-48,"y":-88,"v":0.38},{"s":3,"x":-32,"y":-88,"v":0.46},{"s":3,"x":-16,"y":-88,"v":0.52},{"s":3,"x":0,"y":-88,"v":0.48},{"s":3,"x":16,"y":-88,"v":0.46},{"s":3,"x":32,"y":-88,"v":0.48},{"s":3,"x":48,"y":-88,"v":0.46},{"s":3,"x":64,"y":-88,"v":0.4},
{"s":3,"x":-32,"y":-104,"v":0.44},{"s":3,"x":-16,"y":-104,"v":0.42},{"s":3,"x":0,"y":-104,"v":0.36},{"s":3,"x":16,"y":-104,"v":0.33},{"s":3,"x":32,"y":-104,"v":0.33},
{"s":4,"x":-32,"y":104,"v":0.34},{"s":4,"x":-16,"y":104,"v":0.35},{"s":4,"x":0,"y":104,"v":0.35},{"s":4,"x":16,"y":104,"v":0.33},{"s":4,"x":32,"y":104,"v":0.32},
{"s":4,"x":-64,"y":88,"v":0.38},{"s":4,"x":-48,"y":88,"v":0.42},{"s":4,"x":-32,"y":88,"v":0.44},{"s":4,"x":-16,"y":88,"v":0.42},{"s":4,"x":0,"y":88,"v":0.37},{"s":4,"x":16,"y":88,"v":0.34},{"s":4,"x":32,"y":88,"v":0.3},{"s":4,"x":48,"y":88,"v":0.3},{"s":4,"x":64,"y":88,"v":0.3},
{"s":4,"x":-80,"y":72,"v":0.38},{"s":4,"x":-64,"y":72,"v":0.46},{"s":4,"x":-48,"y":72,"v":0.56},{"s":4,"x":-32,"y":72,"v":0.54},{"s":4,"x":-16,"y":72,"v":0.46},{"s":4,"x":0,"y":72,"v":0.42},{"s":4,"x":16,"y":72,"v":0.34},{"s":4,"x":32,"y":72,"v":0.3},{"s":4,"x":48,"y":72,"v":0.3},{"s":4,"x":64,"y":72,"v":0.29},{"s":4,"x":80,"y":72,"v":0.3},
{"s":4,"x":-96,"y":56,"v":0.36},{"s":4,"x":-80,"y":56,"v":0.38},{"s":4,"x":-64,"y":56,"v":0.5},{"s":4,"x":-48,"y":56,"v":0.66},{"s":4,"x":-32,"y":56,"v":0.66},{"s":4,"x":-16,"y":56,"v":0.5},{"s":4,"x":0,"y":56,"v":0.44},{"s":4,"x":16,"y":56,"v":0.36},{"s":4,"x":32,"y":56,"v":0.31},{"s":4,"x":48,"y":56,"v":0.3},{"s":4,"x":64,"y":56,"v":0.3},{"s":4,"x":80,"y":56,"v":0.3},{"s":4,"x":96,"y":56,"v":0.32},
{"s":4,"x":-96,"y":40,"v":0.4},{"s":4,"x":-80,"y":40,"v":0.38},{"s":4,"x":-64,"y":40,"v":0.42},{"s":4,"x":-48,"y":40,"v":0.44},{"s":4,"x":-32,"y":40,"v":0.44},{"s":4,"x":-16,"y":40,"v":0.4},{"s":4,"x":0,"y":40,"v":0.44},{"s":4,"x":16,"y":40,"v":0.4},{"s":4,"x":32,"y":40,"v":0.33},{"s":4,"x":48,"y":40,"v":0.31},{"s":4,"x":64,"y":40,"v":0.32},{"s":4,"x":80,"y":40,"v":0.33},{"s":4,"x":96,"y":40,"v":0.34},
{"s":4,"x":-96,"y":24,"v":0.46},{"s":4,"x":-80,"y":24,"v":0.38},{"s":4,"x":-64,"y":24,"v":0.34},{"s":4,"x":-48,"y":24,"v":0.32},{"s":4,"x":-32,"y":24,"v":0.33},{"s":4,"x":-16,"y":24,"v":0.5},{"s":4,"x":0,"y":24,"v":0.68},{"s":4,"x":16,"y":24,"v":0.54},{"s":4,"x":32,"y":24,"v":0.36},{"s":4,"x":48,"y":24,"v":0.35},{"s":4,"x":64,"y":24,"v":0.36},{"s":4,"x":80,"y":24,"v":0.36},{"s":4,"x":96,"y":24,"v":0.36},
{"s":4,"x":-96,"y":8,"v":0.55},{"s":4,"x":-80,"y":8,"v":0.4},{"s":4,"x":-64,"y":8,"v":0.33},{"s":4,"x":-48,"y":8,"v":0.31},{"s":4,"x":-32,"y":8,"v":0.36},{"s":4,"x":-16,"y":8,"v":0.76},{"s":4,"x":0,"y":8,"v":0.94},{"s":4,"x":16,"y":8,"v":0.74},{"s":4,"x":32,"y":8,"v":0.42},{"s":4,"x":48,"y":8,"v":0.38},{"s":4,"x":64,"y":8,"v":0.4},{"s":4,"x":80,"y":8,"v":0.4},{"s":4,"x":96,"y":8,"v":0.4},
{"s":4,"x":-96,"y":-8,"v":0.58},{"s":4,"x":-80,"y":-8,"v":0.42},{"s":4,"x":-64,"y":-8,"v":0.31},{"s":4,"x":-48,"y":-8,"v":0.3},{"s":4,"x":-32,"y":-8,"v":0.35},{"s":4,"x":-16,"y":-8,"v":0.76},{"s":4,"x":0,"y":-8,"v":0.94},{"s":4,"x":16,"y":-8,"v":0.72},{"s":4,"x":32,"y":-8,"v":0.42},{"s":4,"x":48,"y":-8,"v":0.4},{"s":4,"x":64,"y":-8,"v":0.42},{"s":4,"x":80,"y":-8,"v":0.42},{"s":4,"x":96,"y":-8,"v":0.42},
{"s":4,"x":-96,"y":-24,"v":0.5},{"s":4,"x":-80,"y":-24,"v":0.4},{"s":4,"x":-64,"y":-24,"v":0.28},{"s":4,"x":-48,"y":-24,"v":0.27},{"s":4,"x":-32,"y":-24,"v":0.3},{"s":4,"x":-16,"y":-24,"v":0.48},{"s":4,"x":0,"y":-24,"v":0.62},{"s":4,"x":16,"y":-24,"v":0.5},{"s":4,"x":32,"y":-24,"v":0.38},{"s":4,"x":48,"y":-24,"v":0.38},{"s":4,"x":64,"y":-24,"v":0.42},{"s":4,"x":80,"y":-24,"v":0.44},{"s":4,"x":96,"y":-24,"v":0.42},
{"s":4,"x":-96,"y":-40,"v":0.42},{"s":4,"x":-80,"y":-40,"v":0.36},{"s":4,"x":-64,"y":-40,"v":0.28},{"s":4,"x":-48,"y":-40,"v":0.27},{"s":4,"x":-32,"y":-40,"v":0.27},{"s":4,"x":-16,"y":-40,"v":0.32},{"s":4,"x":0,"y":-40,"v":0.36},{"s":4,"x":16,"y":-40,"v":0.33},{"s":4,"x":32,"y":-40,"v":0.3},{"s":4,"x":48,"y":-40,"v":0.34},{"s":4,"x":64,"y":-40,"v":0.4},{"s":4,"x":80,"y":-40,"v":0.42},{"s":4,"x":96,"y":-40,"v":0.4},
{"s":4,"x":-96,"y":-56,"v":0.38},{"s":4,"x":-80,"y":-56,"v":0.36},{"s":4,"x":-64,"y":-56,"v":0.31},{"s":4,"x":-48,"y":-56,"v":0.3},{"s":4,"x":-32,"y":-56,"v":0.3},{"s":4,"x":-16,"y":-56,"v":0.31},{"s":4,"x":0,"y":-56,"v":0.32},{"s":4,"x":16,"y":-56,"v":0.32},{"s":4,"x":32,"y":-56,"v":0.31},{"s":4,"x":48,"y":-56,"v":0.34},{"s":4,"x":64,"y":-56,"v":0.38},{"s":4,"x":80,"y":-56,"v":0.38},{"s":4,"x":96,"y":-56,"v":0.36},
{"s":4,"x":-80,"y":-72,"v":0.36},{"s":4,"x":-64,"y":-72,"v":0.34},{"s":4,"x":-48,"y":-72,"v":0.34},{"s":4,"x":-32,"y":-72,"v":0.35},{"s":4,"x":-16,"y":-72,"v":0.36},{"s":4,"x":0,"y":-72,"v":0.36},{"s":4,"x":16,"y":-72,"v":0.34},{"s":4,"x":32,"y":-72,"v":0.33},{"s":4,"x":48,"y":-72,"v":0.35},{"s":4,"x":64,"y":-72,"v":0.35},{"s":4,"x":80,"y":-72,"v":0.35},
{"s":4,"x":-64,"y":-88,"v":0.36},{"s":4,"x":-48,"y":-88,"v":0.36},{"s":4,"x":-32,"y":-88,"v":0.38},{"s":4,"x":-16,"y":-88,"v":0.41},{"s":4,"x":0,"y":-88,"v":0.42},{"s":4,"x":16,"y":-88,"v":0.37},{"s":4,"x":32,"y":-88,"v":0.34},{"s":4,"x":48,"y":-88,"v":0.34},{"s":4,"x":64,"y":-88,"v":0.35},
{"s":4,"x":-32,"y":-104,"v":0.38},{"s":4,"x":-16,"y":-104,"v":0.44},{"s":4,"x":0,"y":-104,"v":0.47},{"s":4,"x":16,"y":-104,"v":0.4},{"s":4,"x":32,"y":-104,"v":0.35}
]},
"vconcat":[
{"title":{"text":"A","anchor":"start","frame":"group","fontSize":31,"fontWeight":"normal","font":"Liberation Sans","dx":-18,"offset":6},"width":1254,"height":256,"data":{"name":"bars"},"mark":{"type":"bar","stroke":"#000","strokeWidth":1},"encoding":{
"x":{"field":"c","type":"nominal","sort":null,"scale":{"paddingInner":0,"paddingOuter":0.35,"align":0.687},"axis":{"title":"Channels","titleFontSize":32,"titleFontWeight":"normal","titleColor":"#000","titlePadding":6,"labelFontSize":25,"labelColor":"#000","labelAngle":0,"labelOverlap":false,"labelPadding":13,"labelLineHeight":35,"labelBaseline":"top","ticks":false,"domainColor":"#000","domainWidth":2.5,"labelExpr":"indexof(['AF3','F3','FC5','C3','CP5','P3','PO3','Oz','PO4','P8','CP2','T8','FC2','F8','Fp2','Cz'],datum.value)>=0 ? [' ',datum.value] : datum.value"}},
"xOffset":{"field":"s","type":"nominal","scale":{"paddingInner":0,"paddingOuter":0.82}},
"y":{"field":"v","type":"quantitative","scale":{"domain":[0,1]},"axis":{"title":"Selection frequency","titleFontSize":32,"titleFontWeight":"normal","titleColor":"#000","titlePadding":1,"values":[0,1],"format":"d","labelFontSize":31,"labelColor":"#000","labelPadding":1,"ticks":false,"grid":false,"domainColor":"#000","domainWidth":2.5}},
"fill":{"field":"s","type":"nominal","legend":null,"scale":{"range":["#eeeeee","#c0c0c0","#7f7f7f","#444444"]}}}},
{"spacing":43,"hconcat":[
{"title":{"text":"B","anchor":"start","frame":"group","fontSize":31,"fontWeight":"normal","font":"Liberation Sans","dx":-18,"offset":0},"width":16,"height":290,"layer":[
{"data":{"name":"bar"},"mark":{"type":"rect","height":11},"encoding":{"y":{"field":"v","type":"quantitative","scale":{"domain":[-0.2133,1.161],"nice":false,"zero":false},"axis":{"title":"Selection frequency","titleFontSize":32,"titleFontWeight":"normal","titleColor":"#000","titlePadding":1,"titleY":139,"values":[0,1],"format":"d","labelFontSize":31,"labelColor":"#000","labelPadding":1,"ticks":false,"grid":false,"domain":false}},"color":{"field":"v","type":"quantitative","legend":null,"scale":{"domain":[0,0.2,0.28,0.35,0.45,0.55,0.62,0.7,0.8,0.92,1],"range":["#0f9d48","#45b04a","#8fc278","#b2d52a","#e8ea00","#f0c800","#ee9020","#e2501e","#d2121f","#a3121f","#6e1a22"]}}}},
{"data":{"values":[{"lo":0,"hi":1}]},"mark":{"type":"rect","fill":null,"stroke":"#000","strokeWidth":3},"encoding":{"y":{"field":"lo","type":"quantitative","scale":{"domain":[-0.2133,1.161],"nice":false,"zero":false}},"y2":{"field":"hi"}}}
]},
{"data":{"name":"cells"},"facet":{"column":{"field":"s","type":"nominal","header":{"title":null,"labelOrient":"bottom","labelFontSize":32,"labelColor":"#000","labelPadding":10,"labelExpr":"'subject ' + datum.value"}}},"spacing":0,"spec":{"width":285,"height":290,"layer":[
{"mark":{"type":"rect","width":17,"height":17},"encoding":{"x":{"field":"x","type":"quantitative","axis":null,"scale":{"domain":[-142.5,142.5],"nice":false,"zero":false,"padding":0}},"y":{"field":"y","type":"quantitative","axis":null,"scale":{"domain":[-144,146],"nice":false,"zero":false,"padding":0}},"color":{"field":"v","type":"quantitative","legend":null,"scale":{"domain":[0,0.2,0.28,0.35,0.45,0.55,0.62,0.7,0.8,0.92,1],"range":["#0f9d48","#45b04a","#8fc278","#b2d52a","#e8ea00","#f0c800","#ee9020","#e2501e","#d2121f","#a3121f","#6e1a22"]}}}},
{"mark":{"type":"circle","opacity":0.4,"size":1000},"encoding":{"x":{"field":"x","type":"quantitative","scale":{"domain":[-142.5,142.5],"nice":false,"zero":false,"padding":0}},"y":{"field":"y","type":"quantitative","scale":{"domain":[-144,146],"nice":false,"zero":false,"padding":0}},"color":{"field":"v","type":"quantitative","legend":null}}},
{"mark":{"type":"circle","opacity":0.4,"size":420},"encoding":{"x":{"field":"x","type":"quantitative","scale":{"domain":[-142.5,142.5],"nice":false,"zero":false,"padding":0}},"y":{"field":"y","type":"quantitative","scale":{"domain":[-144,146],"nice":false,"zero":false,"padding":0}},"color":{"field":"v","type":"quantitative","legend":null}}},
{"data":{"name":"mask"},"mark":{"type":"line","interpolate":"cardinal","stroke":"#fff","strokeWidth":26,"strokeJoin":"round","clip":true},"encoding":{"x":{"field":"x","type":"quantitative","scale":{"domain":[-142.5,142.5],"nice":false,"zero":false,"padding":0}},"y":{"field":"y","type":"quantitative","scale":{"domain":[-144,146],"nice":false,"zero":false,"padding":0}},"order":{"field":"i"}}},
{"data":{"name":"disc"},"mark":{"type":"line","interpolate":"cardinal","stroke":"#b4b4b4","strokeWidth":2,"strokeDash":[2,2],"strokeJoin":"round"},"encoding":{"x":{"field":"x","type":"quantitative","scale":{"domain":[-142.5,142.5],"nice":false,"zero":false,"padding":0}},"y":{"field":"y","type":"quantitative","scale":{"domain":[-144,146],"nice":false,"zero":false,"padding":0}},"order":{"field":"i"}}},
{"data":{"name":"head"},"mark":{"type":"line","interpolate":"cardinal","stroke":"#000","strokeWidth":2.6,"strokeJoin":"round"},"encoding":{"x":{"field":"x","type":"quantitative","scale":{"domain":[-142.5,142.5],"nice":false,"zero":false,"padding":0}},"y":{"field":"y","type":"quantitative","scale":{"domain":[-144,146],"nice":false,"zero":false,"padding":0}},"detail":{"field":"p"},"order":{"field":"i"}}},
{"data":{"name":"elec"},"mark":{"type":"text","font":"Liberation Serif","fontSize":19,"fill":"#111"},"encoding":{"x":{"field":"x","type":"quantitative","scale":{"domain":[-142.5,142.5],"nice":false,"zero":false,"padding":0}},"y":{"field":"y","type":"quantitative","scale":{"domain":[-144,146],"nice":false,"zero":false,"padding":0}},"text":{"field":"n"}}}
]},"resolve":{"scale":{"x":"shared","y":"shared"}}}
]}
]}
